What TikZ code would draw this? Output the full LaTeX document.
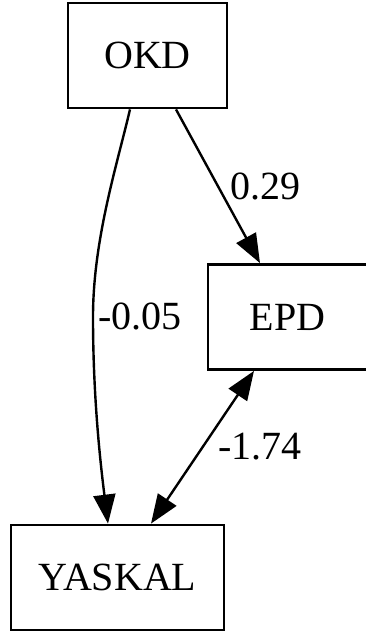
\documentclass[tikz,border=0pt]{standalone}
\usepackage{fontspec}
\setmainfont{Liberation Serif}
\usetikzlibrary{arrows.meta}
\begin{document}
\begin{tikzpicture}[x=1pt,y=-1pt,
  box/.style={draw, line width=2.8pt, inner sep=0pt, minimum height=105pt, font=\fontsize{40}{45}\selectfont},
  lbl/.style={font=\fontsize{40}{45}\selectfont, inner sep=0pt},
  edge/.style={line width=2.4pt, -{Triangle[length=29pt,width=22pt]}},
  bedge/.style={line width=2.4pt, {Triangle[length=29pt,width=22pt]}-{Triangle[length=29pt,width=22pt]}}]
\useasboundingbox (0,0) rectangle (365,637);
\node[box, minimum width=159pt] (okd) at (147.5,55.5) {OKD};
\node[box, minimum width=159pt] (epd) at (287.5,317) {EPD};
\node[box, minimum width=213pt] (yaskal) at (117.5,577.5) {YASKAL};
\draw[edge] ([xshift=-17.5pt]okd.south) .. controls (117,165) and (93,240) .. (93,317)
  .. controls (93,395) and (100,460) .. ([xshift=-9.5pt]yaskal.north);
\draw[edge] ([xshift=28.5pt]okd.south) -- ([xshift=-27.5pt]epd.north);
\draw[bedge] ([xshift=-33.5pt]epd.south) -- ([xshift=33.5pt]yaskal.north);
\node[lbl] (l1) at (265,186) {0.29};
\node[lbl] (l2) at (140,316) {-0.05};
\node[lbl] (l3) at (260,447) {-1.74};
\end{tikzpicture}
\end{document}
